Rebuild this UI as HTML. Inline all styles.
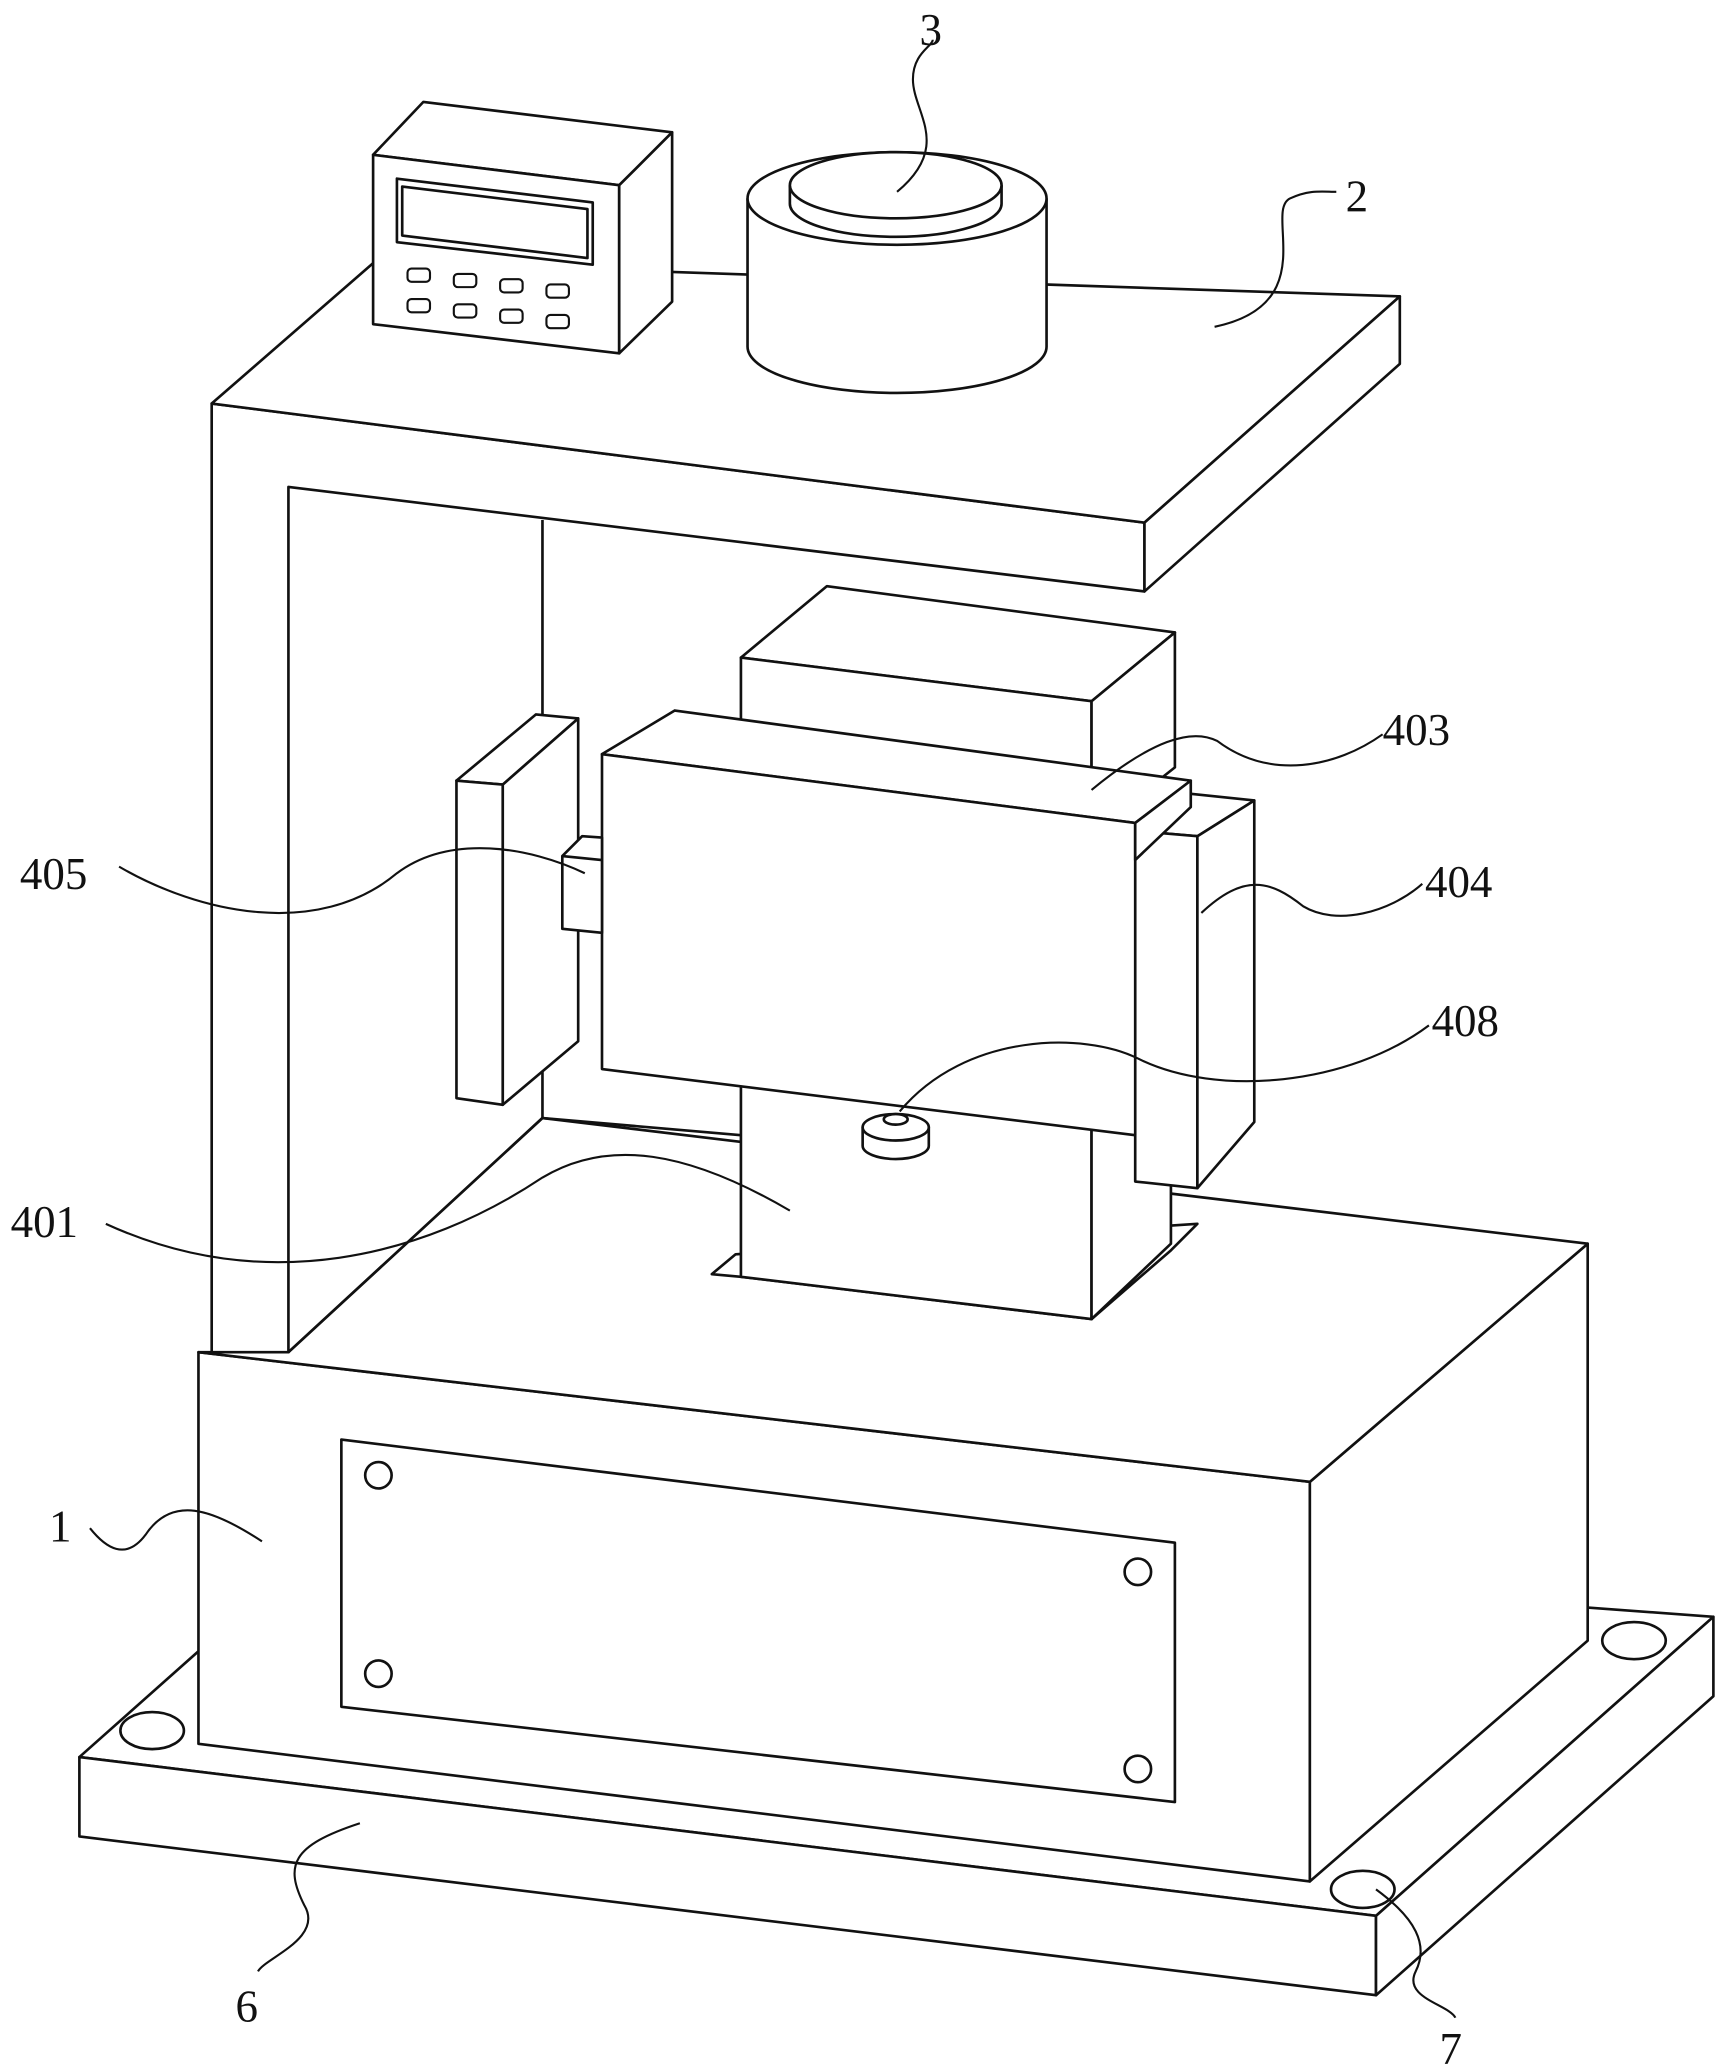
<!DOCTYPE html>
<html><head><meta charset="utf-8"><style>
html,body{margin:0;padding:0;background:#fff;}
svg{display:block;}
text{font-family:"Liberation Serif",serif;font-size:34px;fill:#111;}
</style></head><body>
<svg width="1720" height="2068" viewBox="0 0 1300 1563" xmlns="http://www.w3.org/2000/svg">
<g fill="#fff" stroke="#111" stroke-width="2" stroke-linejoin="round">
<polygon points="60,1328 150,1248 1200,1215 1295,1222 1040,1448"/>
<polygon points="60,1328 1040,1448 1040,1508 60,1388"/>
<polygon points="1040,1448 1295,1222 1295,1282 1040,1508"/>
<ellipse cx="115" cy="1308" rx="24" ry="14"/>
<ellipse cx="1235" cy="1240" rx="24" ry="14"/>
<ellipse cx="1030" cy="1428" rx="24" ry="14"/>
<polygon points="150,1022 990,1120 990,1422 150,1318"/>
<polygon points="990,1120 1200,940 1200,1240 990,1422"/>
<polygon points="150,1022 218,1022 410,845 1200,940 990,1120"/>
<polygon points="258,1088 888,1166 888,1362 258,1290"/>
<circle cx="286" cy="1115" r="10"/><circle cx="860" cy="1188" r="10"/>
<circle cx="286" cy="1265" r="10"/><circle cx="860" cy="1337" r="10"/>
<polygon points="160,305 865,395 865,447 218,368 218,1022 160,1022"/>
<polygon points="160,305 283,198 1058,224 865,395"/>
<polygon points="865,395 1058,224 1058,275 865,447"/>
<line x1="410" y1="393" x2="410" y2="845"/>
<line x1="410" y1="845" x2="218" y2="1022"/>
<line x1="410" y1="845" x2="560" y2="858"/>
<polygon points="538,963 556,948 905,925 885,945 825,997 560,965"/>
<polygon points="560,800 825,830 825,997 560,965"/>
<polygon points="825,830 885,790 885,940 825,997"/>
<polygon points="560,497 625,443 888,478 825,530"/>
<polygon points="560,497 825,530 825,620 560,590"/>
<polygon points="825,530 888,478 888,580 825,630"/>
<polygon points="858,628 900,600 948,605 905,632"/>
<polygon points="858,628 905,632 905,898 858,893"/>
<polygon points="905,632 948,605 948,848 905,898"/>
<polygon points="455,570 510,537 900,590 858,622"/>
<polygon points="455,570 858,622 858,858 455,808"/>
<polygon points="858,622 900,590 900,610 858,650"/>
<polygon points="345,590 405,540 437,543 380,593"/>
<polygon points="345,590 380,593 380,835 345,830"/>
<polygon points="380,593 437,543 437,787 380,835"/>
<polygon points="425,647 440,632 455,633 455,705 425,702"/>
<line x1="425" y1="647" x2="455" y2="650"/>
<path d="M652,852 v14 a25,10 0 0 0 50,0 v-14"/>
<ellipse cx="677" cy="852" rx="25" ry="10"/>
<ellipse cx="677" cy="846" rx="9" ry="4"/>
<polygon points="282,117 320,77 508,100 468,140"/>
<polygon points="282,117 468,140 468,267 282,245"/>
<polygon points="468,140 508,100 508,228 468,267"/>
<polygon points="300,135 448,153 448,200 300,183"/>
<polygon points="304,141 444,158 444,195 304,178"/>
<path d="M565,150 v112 a113,35 0 0 0 226,0 v-112"/>
<ellipse cx="678" cy="150" rx="113" ry="35"/>
<path d="M597,140 v14 a80,25 0 0 0 160,0 v-14"/>
<ellipse cx="677" cy="140" rx="80" ry="25"/>
</g>
<g fill="#fff" stroke="#111" stroke-width="1.6">
<rect x="308" y="203" width="17" height="10" rx="3"/><rect x="343" y="207" width="17" height="10" rx="3"/>
<rect x="378" y="211" width="17" height="10" rx="3"/><rect x="413" y="215" width="17" height="10" rx="3"/>
<rect x="308" y="226" width="17" height="10" rx="3"/><rect x="343" y="230" width="17" height="10" rx="3"/>
<rect x="378" y="234" width="17" height="10" rx="3"/><rect x="413" y="238" width="17" height="10" rx="3"/>
</g>
<g fill="none" stroke="#111" stroke-width="1.6">
<path d="M678,145 C720,110 690,85 690,60 C690,40 705,35 705,30"/>
<path d="M918,247 C1000,230 955,160 975,150 C990,143 1000,145 1010,145"/>
<path d="M825,597 C870,560 900,550 920,560 C960,590 1010,580 1045,555"/>
<path d="M908,690 C940,660 960,665 985,685 C1010,700 1050,690 1075,668"/>
<path d="M680,840 C730,780 820,780 860,800 C920,830 1020,820 1080,775"/>
<path d="M442,660 C400,640 340,630 300,660 C240,710 150,690 90,655"/>
<path d="M597,915 C520,870 460,860 410,890 C320,950 200,980 80,925"/>
<path d="M198,1165 C160,1140 130,1130 110,1160 C95,1180 80,1170 68,1155"/>
<path d="M272,1378 C220,1395 215,1410 230,1440 C245,1465 200,1480 195,1490"/>
<path d="M1040,1428 C1070,1450 1080,1470 1070,1490 C1060,1510 1095,1515 1100,1525"/>
</g>
<text x="695" y="34">3</text>
<text x="1017" y="160">2</text>
<text x="1045" y="563">403</text>
<text x="1077" y="678">404</text>
<text x="1082" y="783">408</text>
<text x="15" y="672">405</text>
<text x="8" y="935">401</text>
<text x="37" y="1165">1</text>
<text x="178" y="1528">6</text>
<text x="1088" y="1560">7</text>
</svg>
</body></html>
